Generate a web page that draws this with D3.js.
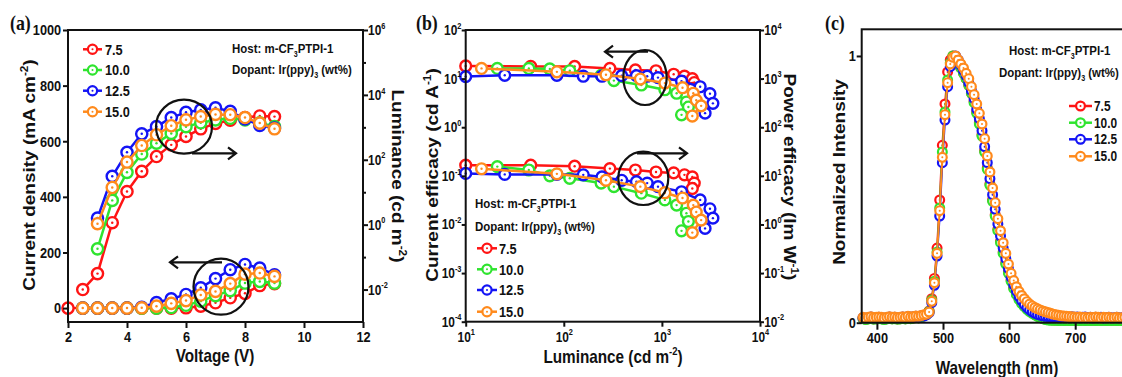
<!DOCTYPE html>
<html><head><meta charset="utf-8">
<script src="https://cdn.jsdelivr.net/npm/d3@7"></script>
<style>
html,body{margin:0;padding:0;background:#fff;}
svg{display:block;}
</style></head><body>
<svg id="chart" width="1122" height="377"></svg>
<script>
// ---------------- DATA ----------------
const seriesNames = ["7.5", "10.0", "12.5", "15.0"];
const seriesColors = ["#ff1414", "#2fe42f", "#1414f5", "#ff8a1c"];

// Panel (a): voltage (V), current density (mA cm-2), luminance (cd m-2)
const voltage = [2, 2.5, 3, 3.5, 4, 4.5, 5, 5.5, 6, 6.5, 7, 7.5, 8, 8.5, 9];
const jRed    = [0, 0, 0, 0, 0, 0, 0, 0, 1, 7, 19, 37, 53, 81, 88];
const jGreen  = [null, 0, 0, 0, 0, 0, 0, 2, 10, 25, 45, 63, 90, 96, 90];
const jBlue   = [null, 0, 0, 0, 0, 3, 20, 33, 49, 73, 106, 138, 157, 144, 120];
const jOrange = [null, 0, 0, 0, 0, 1, 7, 17, 27, 47, 60, 88, 122, 126, 114];
const lumRed    = [null, 0.01, 0.031, 1.15, 10.5, 44, 126, 288, 525, 900, 1320, 1660, 2000, 2240, 2140];
const lumGreen  = [null, null, 0.18, 5.6, 41, 150, 325, 650, 1050, 1380, 1700, 1900, 1700, 1380, 1050];
const lumBlue   = [null, null, 1.6, 31, 170, 630, 1050, 2000, 2900, 3450, 4000, 3100, 1800, 1150, 950];
const lumOrange = [null, null, 1.07, 14, 85, 275, 590, 1120, 1700, 2150, 2500, 2450, 2000, 1350, 900];

// Panel (b): luminance (cd m-2), current efficacy (cd A-1), power efficacy (lm W-1)
const effLumRed = [10, 46, 129, 295, 537, 871, 1318, 1698, 2042, 2138, 2042];
const ceRed     = [18.2, 17.8, 17.8, 16.2, 15.1, 14.5, 12.3, 11.2, 10.0, 8.3, 6.3];
const peRed     = [16.6, 16.6, 15.8, 14.1, 13.2, 12.0, 11.5, 10.5, 9.5, 7.1, 5.5];
const effLumGreen = [21, 44, 72, 115, 240, 324, 617, 1072, 1413, 1778, 1862, 1585];
const ceGreen     = [16.2, 16.2, 15.8, 14.5, 11.7, 9.1, 7.4, 5.9, 5.0, 3.3, 2.6, 1.8];
const peGreen     = [15.5, 13.2, 10.0, 8.9, 7.1, 6.0, 4.4, 3.2, 2.5, 1.7, 1.15, 0.74];
const effLumBlue = [10, 25, 85, 158, 245, 389, 550, 708, 912, 1585, 2455, 3090, 3311, 2754];
const ceBlue     = [11.0, 11.7, 11.7, 11.2, 11.2, 11.5, 11.5, 11.2, 10.5, 8.9, 6.8, 4.9, 3.1, 1.95];
const peBlue     = [11.2, 10.7, 10.7, 10.5, 9.5, 8.1, 7.6, 7.1, 6.0, 4.7, 3.2, 2.1, 1.35, 0.83];
const effLumOrange = [14.5, 85, 269, 603, 1072, 1622, 2089, 2239, 2512, 2042];
const ceOrange     = [16.2, 13.8, 12.0, 9.8, 8.1, 6.5, 5.0, 3.6, 2.75, 1.7];
const peOrange     = [14.0, 11.0, 8.1, 6.0, 4.5, 3.5, 2.5, 1.8, 1.23, 0.68];

// Panel (c): wavelength (nm), normalized EL intensity
const wavelength = [379,383,387,391,395,399,403,407,411,415,419,423,427,431,435,439,443,447,451,455,459,463,467,
  471,475,479,483,487,491,495,499,503,507,511,515,519,523,527,531,535,539,543,547,551,555,559,563,567,571,575,579,583,587,591,595,599,603,607,611,615,619,623,627,631,635,639,643,647,651,655,659,663,667,
  671,675,679,683,687,691,695,699,703,707,711,715,719,723,727,731,735,739,743,747,751,755,759,763,767,771,775];
const elRed = [0.016,0.013,0.015,0.017,0.014,0.015,0.016,0.015,0.013,0.015,0.017,0.015,0.016,0.014,0.015,0.017,0.015,0.019,0.016,0.018,0.02,0.019,0.022,
  0.027,0.031,0.044,0.09,0.166,0.28,0.46,0.665,0.82,0.94,
  0.985,1.0,0.985,0.97,0.955,0.935,0.915,0.89,0.86,0.83,
  0.79,0.75,0.705,0.645,0.58,0.52,0.46,0.405,0.35,0.305,
  0.265,0.225,0.19,0.16,0.132,0.109,0.09,0.075,0.062,0.052,
  0.044,0.037,0.031,0.026,0.021,0.017,0.014,0.012,0.011,0.01,
  0.01,0.009,0.01,0.009,0.01,0.009,0.01,0.009,0.01,0.009,0.01,0.009,0.01,0.009,0.01,0.009,0.01,0.009,0.01,0.009,0.01,0.009,0.01,0.009,0.01,0.009,0.01];
const elGreen = [0.015,0.012,0.014,0.016,0.013,0.014,0.015,0.014,0.012,0.014,0.016,0.014,0.015,0.013,0.014,0.016,0.014,0.018,0.015,0.017,0.019,0.018,0.021,
  0.026,0.03,0.042,0.085,0.155,0.265,0.43,0.64,0.79,0.91,
  0.975,1.0,0.99,0.97,0.955,0.935,0.915,0.89,0.86,0.825,
  0.785,0.745,0.70,0.64,0.575,0.515,0.455,0.40,0.345,0.30,
  0.26,0.22,0.185,0.155,0.128,0.105,0.087,0.072,0.06,0.05,
  0.042,0.035,0.029,0.024,0.019,0.015,0.012,0.01,0.009,0.009,
  0.009,0.008,0.009,0.008,0.009,0.008,0.009,0.008,0.009,0.008,0.009,0.008,0.009,0.008,0.009,0.008,0.009,0.008,0.009,0.008,0.009,0.008,0.009,0.008,0.009,0.008,0.009];
const elBlue = [0.019,0.017,0.019,0.021,0.018,0.019,0.02,0.019,0.017,0.019,0.021,0.019,0.02,0.018,0.019,0.021,0.019,0.023,0.02,0.022,0.024,0.023,0.026,
  0.025,0.029,0.038,0.075,0.14,0.25,0.40,0.60,0.76,0.885,
  0.96,0.99,1.0,0.985,0.965,0.945,0.925,0.9,0.87,0.84,
  0.80,0.765,0.72,0.66,0.6,0.54,0.48,0.425,0.37,0.325,
  0.28,0.24,0.203,0.17,0.142,0.118,0.098,0.082,0.068,0.057,
  0.048,0.041,0.035,0.031,0.028,0.026,0.024,0.023,0.022,0.021,
  0.021,0.02,0.022,0.02,0.021,0.019,0.022,0.02,0.021,0.019,0.02,0.021,0.019,0.02,0.018,0.02,0.019,0.02,0.018,0.019,0.02,0.018,0.019,0.02,0.018,0.019,0.02];
const elOrange = [0.02,0.018,0.02,0.022,0.019,0.02,0.021,0.02,0.018,0.02,0.022,0.02,0.021,0.019,0.02,0.022,0.02,0.024,0.021,0.023,0.025,0.024,0.027,
  0.03,0.032,0.04,0.08,0.15,0.26,0.42,0.62,0.78,0.90,
  0.97,0.995,1.0,0.985,0.97,0.955,0.935,0.915,0.885,0.855,
  0.82,0.785,0.745,0.69,0.625,0.565,0.505,0.45,0.39,0.345,
  0.30,0.26,0.22,0.185,0.158,0.135,0.117,0.102,0.09,0.079,
  0.07,0.063,0.057,0.052,0.048,0.044,0.041,0.038,0.035,0.032,
  0.03,0.028,0.026,0.025,0.024,0.023,0.022,0.021,0.02,0.021,0.019,0.02,0.018,0.02,0.019,0.021,0.02,0.018,0.02,0.019,0.02,0.018,0.019,0.02,0.018,0.019,0.02];

// Tick values
const aXTicks = [2, 4, 6, 8, 10, 12];
const aJTicks = [0, 200, 400, 600, 800, 1000];
const aLumMajor = [1e-2, 1e0, 1e2, 1e4, 1e6];
const aLumMinor = [1e-1, 1e1, 1e3, 1e5];
const bXTicks = [1e1, 1e2, 1e3, 1e4];
const bCETicks = [1e-4, 1e-3, 1e-2, 1e-1, 1e0, 1e1, 1e2];
const bPETicks = [1e-2, 1e-1, 1e0, 1e1, 1e2, 1e3, 1e4];
const cXTicks = [400, 500, 600, 700];
const cYTicks = [0, 1];

// ---------------- DRAWING ----------------
const FONT = "'Liberation Sans', Arial, sans-serif";
const SX = 0.85; // horizontal compression of the original figure
const svg = d3.select("#chart");

function txt(parent, x, y, parts, size, opts = {}) {
  let tr = `translate(${x},${y}) scale(${SX},1)`;
  if (opts.rotate) tr += ` rotate(${opts.rotate})`;
  if (opts.off) tr += ` translate(0,${opts.off})`;
  const t = parent.append("text").attr("transform", tr)
    .attr("font-size", size).attr("font-family", opts.family || FONT)
    .attr("font-weight", "bold").attr("fill", "#111")
    .attr("text-anchor", opts.anchor || "start");
  let shift = 0;
  parts.forEach(p => {
    if (typeof p === "string") {
      const ts = t.append("tspan").text(p);
      if (shift) { ts.attr("dy", -shift); shift = 0; }
    } else {
      const s = p.sup !== undefined ? -size * 0.42 : size * 0.3;
      t.append("tspan").attr("font-size", size * 0.62).attr("dy", s - shift).text(p.sup !== undefined ? p.sup : p.sub);
      shift = s;
    }
  });
  return t;
}

function styleAxis(g, size) {
  g.select(".domain").remove();
  g.selectAll(".tick line").attr("stroke", "#111").attr("stroke-width", 2);
  g.attr("font-family", FONT).attr("font-size", size).attr("font-weight", "bold");
  g.selectAll(".tick text").attr("fill", "#111").attr("transform", `scale(${SX},1)`);
}
function logLabels(g, size) {
  g.selectAll(".tick text").each(function (d) {
    const e = Math.round(Math.log10(d));
    const t = d3.select(this); t.text(null);
    t.append("tspan").text("10");
    t.append("tspan").attr("font-size", size * 0.62).attr("dy", -size * 0.45).text(e);
  });
}

function marker(g, x, y, color, r, sw) {
  g.append("circle").attr("cx", x).attr("cy", y).attr("r", r)
    .attr("fill", "#fff").attr("stroke", color).attr("stroke-width", sw);
  g.append("circle").attr("cx", x).attr("cy", y).attr("r", Math.max(1, r * 0.22)).attr("fill", color);
}

function drawSeries(g, xs, ys, xScale, yScale, color, r, sw, lw) {
  const pts = xs.map((x, i) => [x, ys[i]]).filter(d => d[0] != null && d[1] != null);
  const line = d3.line().x(d => xScale(d[0])).y(d => yScale(d[1]));
  g.append("path").attr("d", line(pts)).attr("fill", "none").attr("stroke", color).attr("stroke-width", lw).attr("stroke-linejoin", "round");
  const mg = g.append("g");
  pts.forEach(d => marker(mg, xScale(d[0]), yScale(d[1]), color, r, sw));
}

function legend(g, x0, x1, xl, ys, size, r, sw) {
  seriesNames.forEach((n, i) => {
    g.append("line").attr("x1", x0).attr("x2", x1).attr("y1", ys[i]).attr("y2", ys[i])
      .attr("stroke", seriesColors[i]).attr("stroke-width", 2.5);
    marker(g, (x0 + x1) / 2, ys[i], seriesColors[i], r, sw);
    txt(g, xl, ys[i], [n], size, { off: size * 0.36 });
  });
}

function arrow(g, x1, y, x2) {
  const dir = x2 > x1 ? 1 : -1;
  g.append("path").attr("d", `M${x1},${y}L${x2},${y}M${x2 - dir * 8},${y - 6}L${x2},${y}L${x2 - dir * 8},${y + 6}`)
    .attr("fill", "none").attr("stroke", "#111").attr("stroke-width", 2.2);
}
function ring(g, cx, cy, rx, ry) {
  g.append("ellipse").attr("cx", cx).attr("cy", cy).attr("rx", rx).attr("ry", ry)
    .attr("fill", "none").attr("stroke", "#111").attr("stroke-width", 2.2);
}

// ============ Panel (a) ============
const A = { l: 68, r: 363, t: 30, b: 322 };
const xA = d3.scaleLinear().domain([2, 12]).range([A.l, A.r]);
const yJ = d3.scaleLinear().domain([-50, 1000]).range([A.b, A.t]);
const yLum = d3.scaleLog().domain([1e-3, 1e6]).range([A.b, A.t]);
const gA = svg.append("g");

const jSeries = [jRed, jGreen, jBlue, jOrange];
const lumSeries = [lumRed, lumGreen, lumBlue, lumOrange];
const plotA = gA.append("g");
for (let i = 0; i < 4; i++) {
  drawSeries(plotA, voltage, jSeries[i], xA, yJ, seriesColors[i], 5.6, 2.4, 2.5);
  drawSeries(plotA, voltage, lumSeries[i], xA, yLum, seriesColors[i], 5.6, 2.4, 2.5);
}
gA.append("rect").attr("x", A.l).attr("y", A.t).attr("width", A.r - A.l).attr("height", A.b - A.t)
  .attr("fill", "none").attr("stroke", "#111").attr("stroke-width", 2);

let ax = gA.append("g").attr("transform", `translate(0,${A.b})`)
  .call(d3.axisBottom(xA).tickValues(aXTicks).tickSize(6).tickPadding(3).tickFormat(d3.format("d")));
styleAxis(ax, 15);
ax = gA.append("g").attr("transform", `translate(${A.l},0)`)
  .call(d3.axisLeft(yJ).tickValues(aJTicks).tickSize(5).tickPadding(3).tickFormat(d3.format("d")));
styleAxis(ax, 15);
ax = gA.append("g").attr("transform", `translate(${A.r},0)`)
  .call(d3.axisRight(yLum).tickValues(aLumMajor).tickSize(5).tickPadding(1));
styleAxis(ax, 14); logLabels(ax, 14);
ax = gA.append("g").attr("transform", `translate(${A.r},0)`)
  .call(d3.axisRight(yLum).tickValues(aLumMinor).tickSize(3).tickFormat(""));
styleAxis(ax, 14);

txt(gA, 215, 362, ["Voltage (V)"], 18, { anchor: "middle" });
txt(gA, 29, 175, ["Current density (mA cm", { sup: "-2" }, ")"], 19, { anchor: "middle", rotate: -90, off: 7 });
txt(gA, 398, 176, ["Luminance (cd m", { sup: "-2" }, ")"], 19, { anchor: "middle", rotate: 90, off: 7 });
txt(gA, 10, 30, ["(a)"], 21, { family: "'Liberation Serif', 'Times New Roman', serif" });
txt(gA, 232, 52.7, ["Host: m-CF", { sub: "3" }, "PTPI-1"], 13.5);
txt(gA, 232, 73.5, ["Dopant: Ir(ppy)", { sub: "3" }, " (wt%)"], 13.5);
legend(gA, 83, 102, 105, [49.3, 70, 90.7, 111.7], 15, 4.6, 2.2);
ring(gA, 184, 126.7, 28, 27);
arrow(gA, 192, 153.3, 236);
ring(gA, 221, 286.7, 27.5, 28);
arrow(gA, 222, 262.3, 170);

// ============ Panel (b) ============
const B = { l: 465.7, r: 760, t: 30, b: 321.7 };
const xB = d3.scaleLog().domain([1e1, 1e4]).range([B.l, B.r]);
const yCE = d3.scaleLog().domain([1e-4, 1e2]).range([B.b, B.t]);
const yPE = d3.scaleLog().domain([1e-2, 1e4]).range([B.b, B.t]);
const gB = svg.append("g");
const effLum = [effLumRed, effLumGreen, effLumBlue, effLumOrange];
const ceS = [ceRed, ceGreen, ceBlue, ceOrange];
const peS = [peRed, peGreen, peBlue, peOrange];
const plotB = gB.append("g");
for (let i = 0; i < 4; i++) {
  drawSeries(plotB, effLum[i], ceS[i], xB, yCE, seriesColors[i], 5.4, 2.4, 2.5);
  drawSeries(plotB, effLum[i], peS[i], xB, yPE, seriesColors[i], 5.4, 2.4, 2.5);
}
gB.append("rect").attr("x", B.l).attr("y", B.t).attr("width", B.r - B.l).attr("height", B.b - B.t)
  .attr("fill", "none").attr("stroke", "#111").attr("stroke-width", 2);
ax = gB.append("g").attr("transform", `translate(0,${B.b})`)
  .call(d3.axisBottom(xB).tickValues(bXTicks).tickSize(5).tickPadding(5));
styleAxis(ax, 14); logLabels(ax, 14);
ax = gB.append("g").attr("transform", `translate(${B.l},0)`)
  .call(d3.axisLeft(yCE).tickValues(bCETicks).tickSize(4).tickPadding(1));
styleAxis(ax, 14); logLabels(ax, 14);
ax = gB.append("g").attr("transform", `translate(${B.r},0)`)
  .call(d3.axisRight(yPE).tickValues(bPETicks).tickSize(4).tickPadding(1));
styleAxis(ax, 14); logLabels(ax, 14);

txt(gB, 613, 363, ["Luminance (cd m", { sup: "-2" }, ")"], 18, { anchor: "middle" });
txt(gB, 432, 175, ["Current efficacy (cd A", { sup: "-1" }, ")"], 19, { anchor: "middle", rotate: -90, off: 7 });
txt(gB, 790, 177, ["Power efficacy (lm W", { sup: "-1" }, ")"], 19, { anchor: "middle", rotate: 90, off: 7 });
txt(gB, 416, 30, ["(b)"], 21, { family: "'Liberation Serif', 'Times New Roman', serif" });
txt(gB, 475, 208, ["Host: m-CF", { sub: "3" }, "PTPI-1"], 13.5);
txt(gB, 475, 231, ["Dopant: Ir(ppy)", { sub: "3" }, " (wt%)"], 13.5);
legend(gB, 477, 497, 499, [248.3, 269.3, 290, 311.7], 15, 4.6, 2.2);
ring(gB, 645, 77.5, 21.7, 27.5);
arrow(gB, 648, 51.7, 605);
ring(gB, 643.3, 178.3, 25, 26.7);
arrow(gB, 637, 153.3, 687);

// ============ Panel (c) ============
const C = { l: 861.7, r: 1141.3, t: 29.3, b: 322.7 };
const xC = d3.scaleLinear().domain([377, 800]).range([C.l, C.r]);
const yC = d3.scaleLinear().domain([0, 1.1]).range([C.b, C.t]);
const gC = svg.append("g");
const elS = [elRed, elGreen, elBlue, elOrange];
const plotC = gC.append("g");
for (let i = 0; i < 4; i++) {
  drawSeries(plotC, wavelength, elS[i], xC, yC, seriesColors[i], 4.4, 2.2, 2);
}
gC.append("rect").attr("x", C.l).attr("y", C.t).attr("width", C.r - C.l).attr("height", C.b - C.t)
  .attr("fill", "none").attr("stroke", "#111").attr("stroke-width", 2);
ax = gC.append("g").attr("transform", `translate(0,${C.b})`)
  .call(d3.axisBottom(xC).tickValues(cXTicks).tickSize(7).tickPadding(3).tickFormat(d3.format("d")));
styleAxis(ax, 15);
ax = gC.append("g").attr("transform", `translate(${C.l},0)`)
  .call(d3.axisLeft(yC).tickValues(cYTicks).tickSize(5).tickPadding(2).tickFormat(d3.format("d")));
styleAxis(ax, 15);

txt(gC, 997, 374, ["Wavelength (nm)"], 18, { anchor: "middle" });
txt(gC, 839, 172, ["Normalized Intensity"], 19, { anchor: "middle", rotate: -90, off: 7 });
txt(gC, 825, 30, ["(c)"], 21, { family: "'Liberation Serif', 'Times New Roman', serif" });
txt(gC, 1009, 55, ["Host: m-CF", { sub: "3" }, "PTPI-1"], 13.5);
txt(gC, 999, 77, ["Dopant: Ir(ppy)", { sub: "3" }, " (wt%)"], 13.5);
legend(gC, 1069, 1092, 1094, [106, 122.7, 139.3, 156.3], 14, 4.4, 2.2);
</script>
</body></html>
